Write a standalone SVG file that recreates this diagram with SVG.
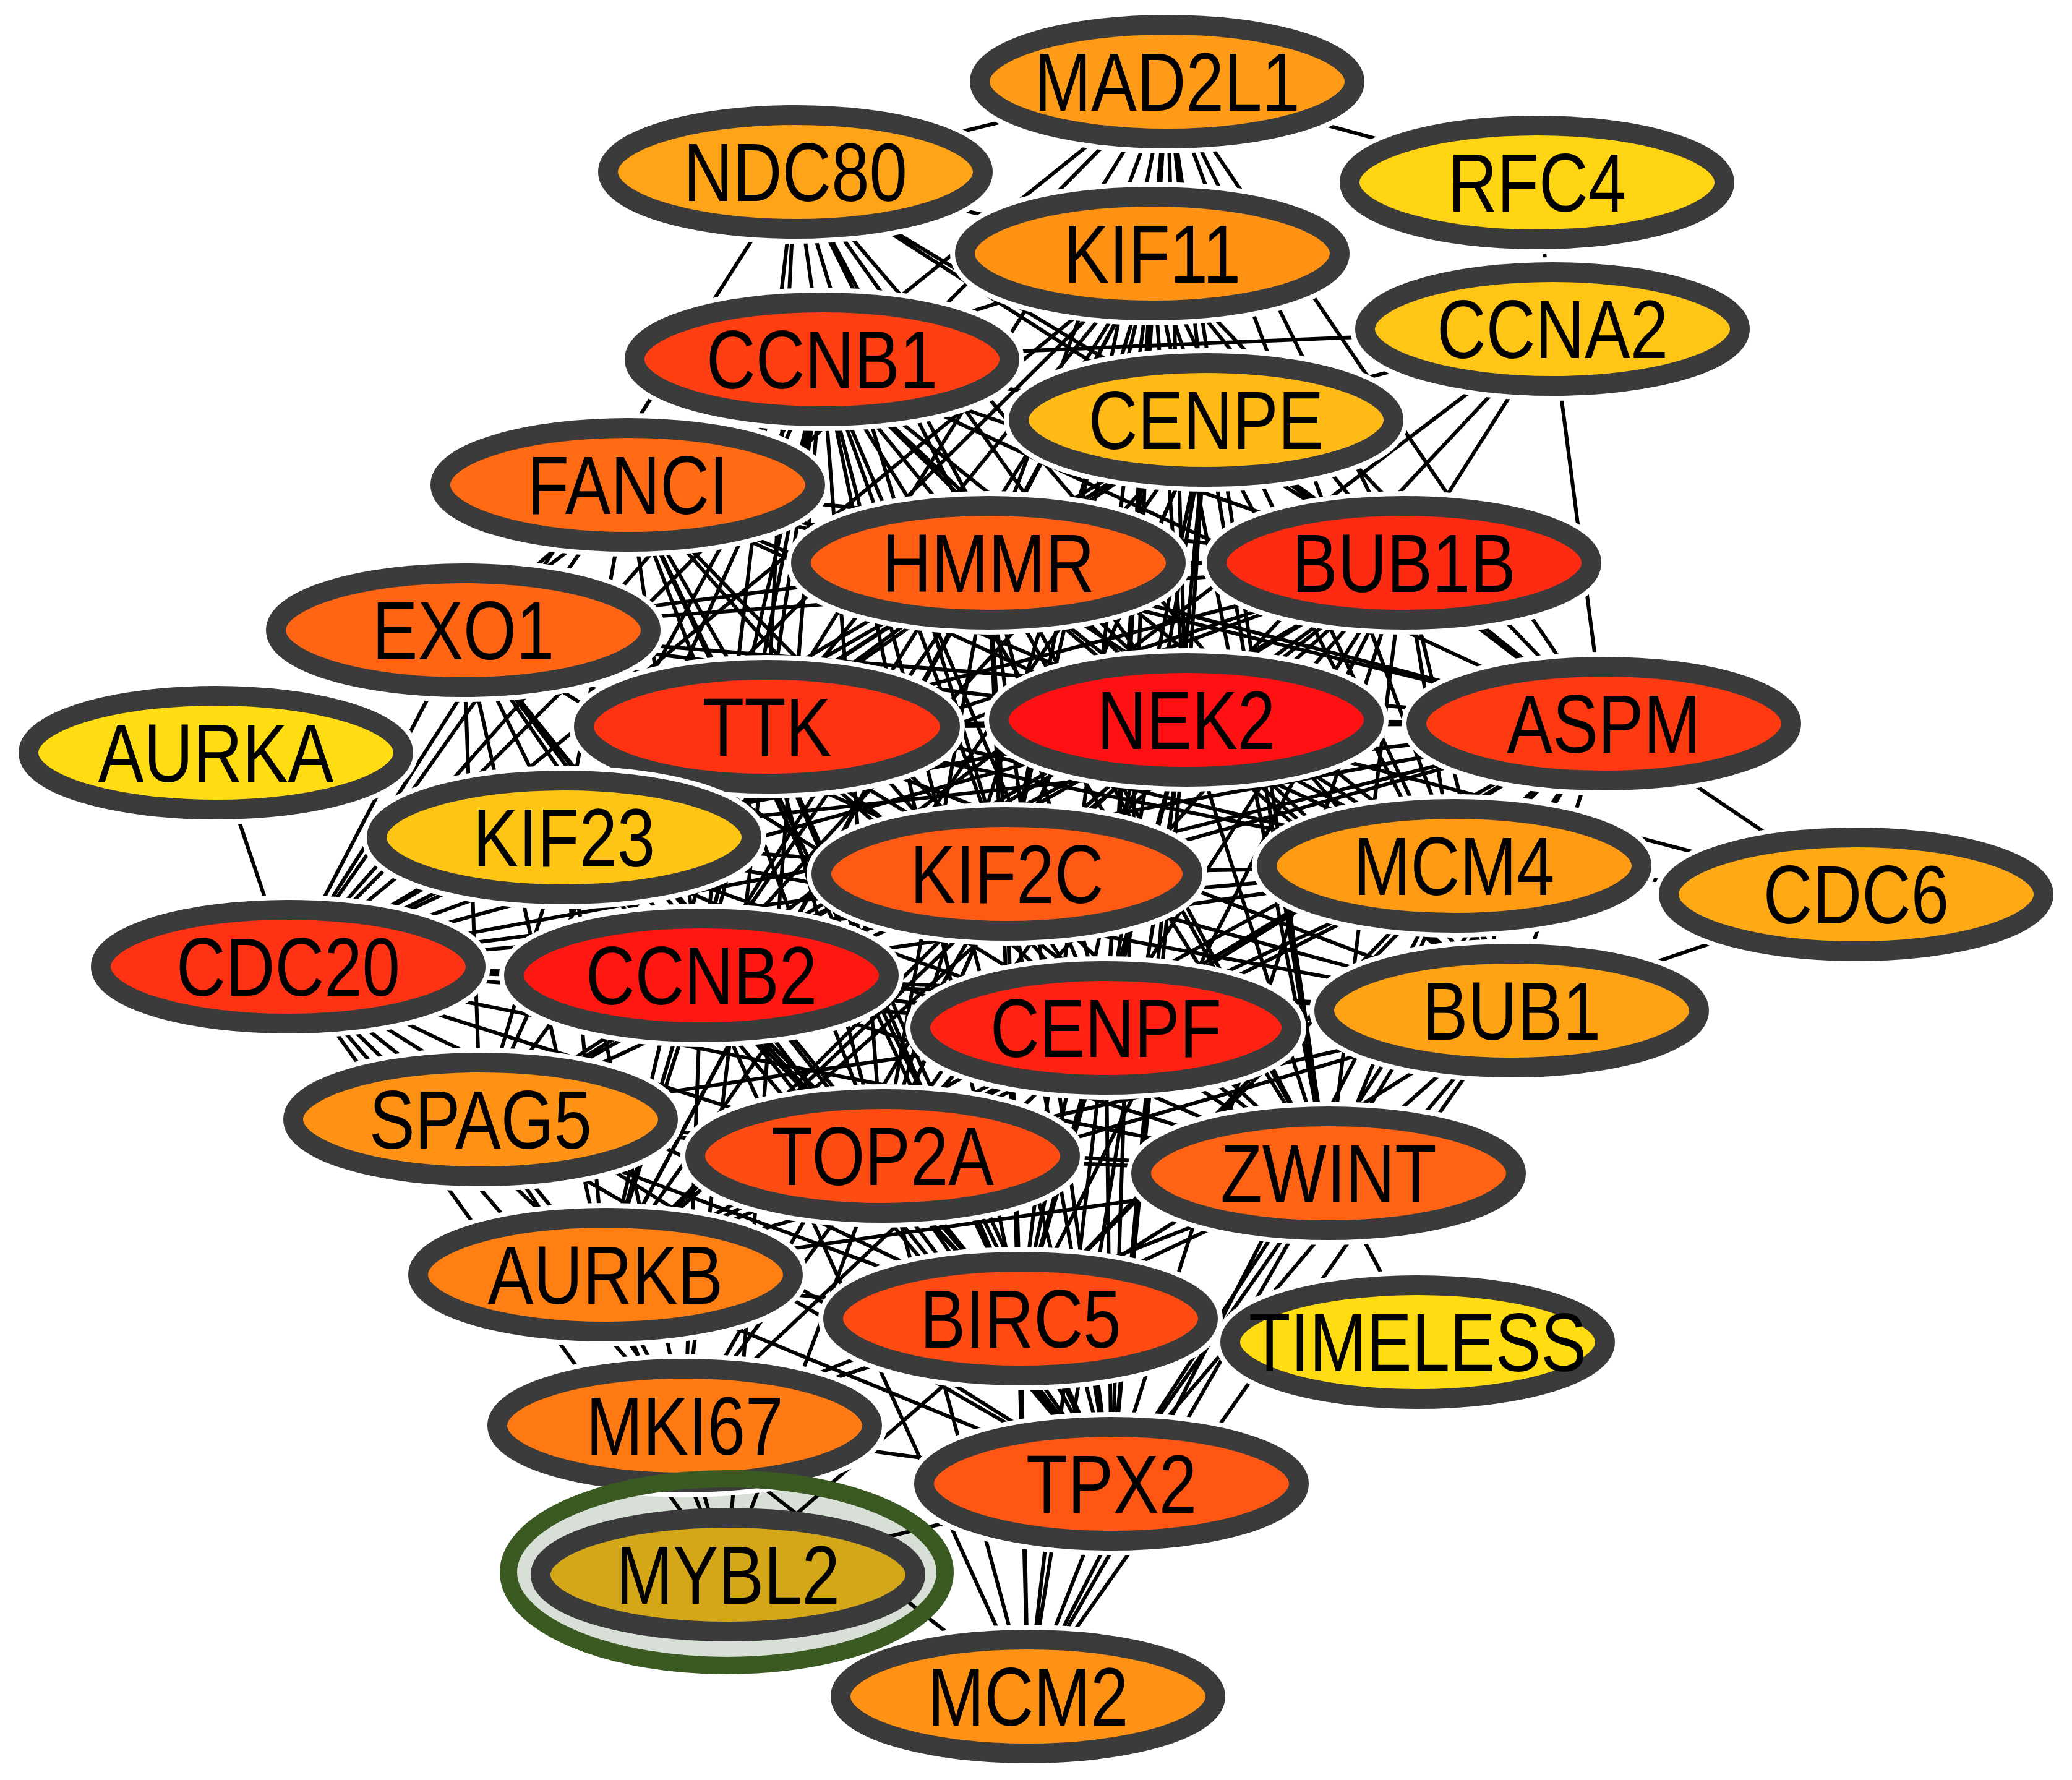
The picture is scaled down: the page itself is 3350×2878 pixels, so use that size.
<svg xmlns="http://www.w3.org/2000/svg" width="3350" height="2878" viewBox="0 0 3350 2878">
<style>
.e path{stroke:#000;stroke-width:6;fill:none}
.h{fill:none;stroke:#fff;stroke-width:48}
.n{stroke:#3b3b3b;stroke-width:32}
.t{font-family:"Liberation Sans",Arial,sans-serif;font-size:133px;text-anchor:middle;fill:#000}
</style>
<rect width="3350" height="2878" fill="#fff"/>
<g id="mybl2-backdrop"><ellipse cx="1175" cy="2542" rx="353" ry="151" fill="#d7dfd6"/></g>
<g id="connectors" class="e">
<path d="M1329 581L1598 910M1329 581L2270 910M1329 581L1240 1175M1329 581L1918 1164M1329 581L2593 1170M1329 581L1628 1413M1329 581L466 1563M1329 581L1134 1577M1329 581L1788 1662M1329 581L1427 1869M1329 581L1650 2132M1329 581L1797 2399M1329 581L2444 1634M1329 581L2148 1897M1329 581L912 1354M1329 581L1950 679M1329 581L1863 410M1329 581L979 2061"/>
<path d="M1598 910L2270 910M1598 910L1240 1175M1598 910L1918 1164M1598 910L2593 1170M1598 910L1628 1413M1598 910L466 1563M1598 910L1134 1577M1598 910L1788 1662M1598 910L1427 1869M1598 910L1650 2132M1598 910L1797 2399M1598 910L2444 1634M1598 910L2148 1897M1598 910L912 1354M1598 910L1950 679M1598 910L1863 410M1598 910L979 2061"/>
<path d="M2270 910L1240 1175M2270 910L1918 1164M2270 910L2593 1170M2270 910L1628 1413M2270 910L466 1563M2270 910L1134 1577M2270 910L1788 1662M2270 910L1427 1869M2270 910L1650 2132M2270 910L1797 2399M2270 910L2444 1634M2270 910L2148 1897M2270 910L912 1354M2270 910L1950 679M2270 910L1863 410M2270 910L979 2061"/>
<path d="M1240 1175L1918 1164M1240 1175L2593 1170M1240 1175L1628 1413M1240 1175L466 1563M1240 1175L1134 1577M1240 1175L1788 1662M1240 1175L1427 1869M1240 1175L1650 2132M1240 1175L1797 2399M1240 1175L2444 1634M1240 1175L2148 1897M1240 1175L912 1354M1240 1175L1950 679M1240 1175L1863 410M1240 1175L979 2061"/>
<path d="M1918 1164L2593 1170M1918 1164L1628 1413M1918 1164L466 1563M1918 1164L1134 1577M1918 1164L1788 1662M1918 1164L1427 1869M1918 1164L1650 2132M1918 1164L1797 2399M1918 1164L2444 1634M1918 1164L2148 1897M1918 1164L912 1354M1918 1164L1950 679M1918 1164L1863 410M1918 1164L979 2061"/>
<path d="M2593 1170L1628 1413M2593 1170L466 1563M2593 1170L1134 1577M2593 1170L1788 1662M2593 1170L1427 1869M2593 1170L1650 2132M2593 1170L1797 2399M2593 1170L2444 1634M2593 1170L2148 1897M2593 1170L912 1354M2593 1170L1950 679M2593 1170L1863 410M2593 1170L979 2061"/>
<path d="M1628 1413L466 1563M1628 1413L1134 1577M1628 1413L1788 1662M1628 1413L1427 1869M1628 1413L1650 2132M1628 1413L1797 2399M1628 1413L2444 1634M1628 1413L2148 1897M1628 1413L912 1354M1628 1413L1950 679M1628 1413L1863 410M1628 1413L979 2061"/>
<path d="M466 1563L1134 1577M466 1563L1788 1662M466 1563L1427 1869M466 1563L1650 2132M466 1563L1797 2399M466 1563L2444 1634M466 1563L2148 1897M466 1563L912 1354M466 1563L1950 679M466 1563L1863 410M466 1563L979 2061"/>
<path d="M1134 1577L1788 1662M1134 1577L1427 1869M1134 1577L1650 2132M1134 1577L1797 2399M1134 1577L2444 1634M1134 1577L2148 1897M1134 1577L912 1354M1134 1577L1950 679M1134 1577L1863 410M1134 1577L979 2061"/>
<path d="M1788 1662L1427 1869M1788 1662L1650 2132M1788 1662L1797 2399M1788 1662L2444 1634M1788 1662L2148 1897M1788 1662L912 1354M1788 1662L1950 679M1788 1662L1863 410M1788 1662L979 2061"/>
<path d="M1427 1869L1650 2132M1427 1869L1797 2399M1427 1869L2444 1634M1427 1869L2148 1897M1427 1869L912 1354M1427 1869L1950 679M1427 1869L1863 410M1427 1869L979 2061"/>
<path d="M1650 2132L1797 2399M1650 2132L2444 1634M1650 2132L2148 1897M1650 2132L912 1354M1650 2132L1950 679M1650 2132L1863 410M1650 2132L979 2061"/>
<path d="M1797 2399L2444 1634M1797 2399L2148 1897M1797 2399L912 1354M1797 2399L1950 679M1797 2399L1863 410M1797 2399L979 2061"/>
<path d="M2444 1634L2148 1897M2444 1634L912 1354M2444 1634L1950 679M2444 1634L1863 410M2444 1634L979 2061"/>
<path d="M2148 1897L912 1354M2148 1897L1950 679M2148 1897L1863 410M2148 1897L979 2061"/>
<path d="M912 1354L1950 679M912 1354L1863 410M912 1354L979 2061M1950 679L1863 410M1950 679L979 2061M1863 410L979 2061"/>
<path d="M349 1217L466 1563"/>
<path d="M2485 295L1887 132M2485 295L2510 532"/>
<path d="M2292 2170L2148 1897"/>
<path d="M3001 1446L2593 1170M3001 1446L2351 1400M3001 1446L2444 1634M3001 1446L1918 1164"/>
<path d="M2510 532L1950 679M2510 532L2270 910M2510 532L1918 1164M2510 532L1134 1577M2510 532L1329 581M2510 532L2593 1170"/>
<path d="M1887 132L1286 278M1887 132L1863 410M1887 132L1329 581M1887 132L1950 679M1887 132L2270 910M1887 132L1918 1164M1887 132L1240 1175M1887 132L1598 910M1887 132L466 1563M1887 132L2444 1634M1887 132L2148 1897M1887 132L1788 1662M1887 132L1628 1413M1887 132L2593 1170"/>
<path d="M1286 278L1863 410M1286 278L1329 581M1286 278L1240 1175M1286 278L1134 1577M1286 278L1598 910M1286 278L1950 679M1286 278L2270 910M1286 278L1918 1164M1286 278L2148 1897M1286 278L1628 1413M1286 278L466 1563M1286 278L2444 1634"/>
<path d="M749 1019L466 1563M749 1019L1015 784M749 1019L1329 581M749 1019L1240 1175M749 1019L912 1354M749 1019L1134 1577M749 1019L1628 1413M749 1019L1918 1164M749 1019L1598 910M749 1019L2270 910M749 1019L2593 1170M749 1019L1427 1869M749 1019L1788 1662M749 1019L1650 2132M749 1019L979 2061M749 1019L2351 1400M749 1019L1797 2399"/>
<path d="M1015 784L1329 581M1015 784L466 1563M1015 784L1240 1175M1015 784L1598 910M1015 784L1918 1164M1015 784L1134 1577M1015 784L1628 1413M1015 784L1427 1869M1015 784L2270 910M1015 784L1788 1662M1015 784L1650 2132M1015 784L912 1354M1015 784L2351 1400M1015 784L2593 1170M1015 784L1797 2399"/>
<path d="M777 1810L466 1563M777 1810L1134 1577M777 1810L912 1354M777 1810L1427 1869M777 1810L979 2061M777 1810L1650 2132M777 1810L1107 2305M777 1810L1797 2399M777 1810L1788 1662M777 1810L1628 1413M777 1810L1240 1175M777 1810L1918 1164M777 1810L1329 581M777 1810L2270 910M777 1810L2148 1897M777 1810L749 1019"/>
<path d="M1107 2305L979 2061M1107 2305L1175 2546M1107 2305L1427 1869M1107 2305L1650 2132M1107 2305L1797 2399M1107 2305L1134 1577M1107 2305L466 1563M1107 2305L1788 1662M1107 2305L1628 1413M1107 2305L1662 2743M1107 2305L912 1354M1107 2305L1240 1175M1107 2305L2148 1897"/>
<path d="M2351 1400L1662 2743M2351 1400L2444 1634M2351 1400L2270 910M2351 1400L2593 1170M2351 1400L1918 1164M2351 1400L1240 1175M2351 1400L1329 581M2351 1400L1598 910M2351 1400L1628 1413M2351 1400L1788 1662M2351 1400L1134 1577M2351 1400L1427 1869M2351 1400L466 1563M2351 1400L2148 1897M2351 1400L1650 2132"/>
<path d="M1662 2743L1797 2399M1662 2743L1650 2132M1662 2743L1427 1869M1662 2743L1788 1662M1662 2743L2148 1897M1662 2743L1628 1413M1662 2743L1918 1164M1662 2743L1134 1577M1662 2743L2444 1634"/>
<path d="M1175 2546L979 2061M1175 2546L466 1563M1175 2546L1650 2132M1175 2546L1427 1869M1175 2546L1797 2399M1175 2546L1329 581"/>
</g>
<g id="nodes">
<g id="MAD2L1"><ellipse class="h" cx="1887" cy="132" rx="303" ry="92"/><ellipse class="n" cx="1887" cy="132" rx="303" ry="92" fill="#FF9B16"/><text class="t" transform="translate(1887 179) scale(0.83 1)">MAD2L1</text></g>
<g id="NDC80"><ellipse class="h" cx="1286" cy="278" rx="303" ry="92"/><ellipse class="n" cx="1286" cy="278" rx="303" ry="92" fill="#FFA317"/><text class="t" transform="translate(1286 325) scale(0.83 1)">NDC80</text></g>
<g id="RFC4"><ellipse class="h" cx="2485" cy="295" rx="303" ry="92"/><ellipse class="n" cx="2485" cy="295" rx="303" ry="92" fill="#FFD513"/><text class="t" transform="translate(2485 342) scale(0.83 1)">RFC4</text></g>
<g id="KIF11"><ellipse class="h" cx="1863" cy="410" rx="303" ry="92"/><ellipse class="n" cx="1863" cy="410" rx="303" ry="92" fill="#FF9113"/><text class="t" transform="translate(1863 457) scale(0.83 1)">KIF11</text></g>
<g id="CCNA2"><ellipse class="h" cx="2510" cy="532" rx="303" ry="92"/><ellipse class="n" cx="2510" cy="532" rx="303" ry="92" fill="#FFC615"/><text class="t" transform="translate(2510 579) scale(0.83 1)">CCNA2</text></g>
<g id="CCNB1"><ellipse class="h" cx="1329" cy="581" rx="303" ry="92"/><ellipse class="n" cx="1329" cy="581" rx="303" ry="92" fill="#FF3F12"/><text class="t" transform="translate(1329 628) scale(0.83 1)">CCNB1</text></g>
<g id="CENPE"><ellipse class="h" cx="1950" cy="679" rx="303" ry="92"/><ellipse class="n" cx="1950" cy="679" rx="303" ry="92" fill="#FFBA15"/><text class="t" transform="translate(1950 726) scale(0.83 1)">CENPE</text></g>
<g id="FANCI"><ellipse class="h" cx="1015" cy="784" rx="303" ry="92"/><ellipse class="n" cx="1015" cy="784" rx="303" ry="92" fill="#FF6A13"/><text class="t" transform="translate(1015 831) scale(0.83 1)">FANCI</text></g>
<g id="HMMR"><ellipse class="h" cx="1598" cy="910" rx="303" ry="92"/><ellipse class="n" cx="1598" cy="910" rx="303" ry="92" fill="#FF5E13"/><text class="t" transform="translate(1598 957) scale(0.83 1)">HMMR</text></g>
<g id="BUB1B"><ellipse class="h" cx="2270" cy="910" rx="303" ry="92"/><ellipse class="n" cx="2270" cy="910" rx="303" ry="92" fill="#FF2A12"/><text class="t" transform="translate(2270 957) scale(0.83 1)">BUB1B</text></g>
<g id="EXO1"><ellipse class="h" cx="749" cy="1019" rx="303" ry="92"/><ellipse class="n" cx="749" cy="1019" rx="303" ry="92" fill="#FF6513"/><text class="t" transform="translate(749 1066) scale(0.83 1)">EXO1</text></g>
<g id="TTK"><ellipse class="h" cx="1240" cy="1175" rx="296" ry="92"/><ellipse class="n" cx="1240" cy="1175" rx="296" ry="92" fill="#FF3312"/><text class="t" transform="translate(1240 1222) scale(0.83 1)">TTK</text></g>
<g id="NEK2"><ellipse class="h" cx="1918" cy="1164" rx="303" ry="92"/><ellipse class="n" cx="1918" cy="1164" rx="303" ry="92" fill="#FF1012"/><text class="t" transform="translate(1918 1211) scale(0.83 1)">NEK2</text></g>
<g id="ASPM"><ellipse class="h" cx="2593" cy="1170" rx="303" ry="92"/><ellipse class="n" cx="2593" cy="1170" rx="303" ry="92" fill="#FF3A10"/><text class="t" transform="translate(2593 1217) scale(0.83 1)">ASPM</text></g>
<g id="AURKA"><ellipse class="h" cx="349" cy="1217" rx="303" ry="92"/><ellipse class="n" cx="349" cy="1217" rx="303" ry="92" fill="#FFDD12"/><text class="t" transform="translate(349 1264) scale(0.83 1)">AURKA</text></g>
<g id="KIF23"><ellipse class="h" cx="912" cy="1354" rx="303" ry="92"/><ellipse class="n" cx="912" cy="1354" rx="303" ry="92" fill="#FFC514"/><text class="t" transform="translate(912 1401) scale(0.83 1)">KIF23</text></g>
<g id="KIF2C"><ellipse class="h" cx="1628" cy="1413" rx="300" ry="92"/><ellipse class="n" cx="1628" cy="1413" rx="300" ry="92" fill="#FF5A13"/><text class="t" transform="translate(1628 1460) scale(0.83 1)">KIF2C</text></g>
<g id="MCM4"><ellipse class="h" cx="2351" cy="1400" rx="303" ry="92"/><ellipse class="n" cx="2351" cy="1400" rx="303" ry="92" fill="#FF9A13"/><text class="t" transform="translate(2351 1447) scale(0.83 1)">MCM4</text></g>
<g id="CDC6"><ellipse class="h" cx="3001" cy="1446" rx="303" ry="92"/><ellipse class="n" cx="3001" cy="1446" rx="303" ry="92" fill="#FFAA15"/><text class="t" transform="translate(3001 1493) scale(0.83 1)">CDC6</text></g>
<g id="CDC20"><ellipse class="h" cx="466" cy="1563" rx="303" ry="92"/><ellipse class="n" cx="466" cy="1563" rx="303" ry="92" fill="#FF3213"/><text class="t" transform="translate(466 1610) scale(0.83 1)">CDC20</text></g>
<g id="CCNB2"><ellipse class="h" cx="1134" cy="1577" rx="303" ry="92"/><ellipse class="n" cx="1134" cy="1577" rx="303" ry="92" fill="#FF1712"/><text class="t" transform="translate(1134 1624) scale(0.83 1)">CCNB2</text></g>
<g id="CENPF"><ellipse class="h" cx="1788" cy="1662" rx="300" ry="92"/><ellipse class="n" cx="1788" cy="1662" rx="300" ry="92" fill="#FF2112"/><text class="t" transform="translate(1788 1709) scale(0.83 1)">CENPF</text></g>
<g id="BUB1"><ellipse class="h" cx="2444" cy="1634" rx="303" ry="92"/><ellipse class="n" cx="2444" cy="1634" rx="303" ry="92" fill="#FFA315"/><text class="t" transform="translate(2444 1681) scale(0.83 1)">BUB1</text></g>
<g id="SPAG5"><ellipse class="h" cx="777" cy="1810" rx="303" ry="92"/><ellipse class="n" cx="777" cy="1810" rx="303" ry="92" fill="#FF9214"/><text class="t" transform="translate(777 1857) scale(0.83 1)">SPAG5</text></g>
<g id="TOP2A"><ellipse class="h" cx="1427" cy="1869" rx="303" ry="92"/><ellipse class="n" cx="1427" cy="1869" rx="303" ry="92" fill="#FF4C12"/><text class="t" transform="translate(1427 1916) scale(0.83 1)">TOP2A</text></g>
<g id="ZWINT"><ellipse class="h" cx="2148" cy="1897" rx="303" ry="92"/><ellipse class="n" cx="2148" cy="1897" rx="303" ry="92" fill="#FF6313"/><text class="t" transform="translate(2148 1944) scale(0.83 1)">ZWINT</text></g>
<g id="AURKB"><ellipse class="h" cx="979" cy="2061" rx="303" ry="92"/><ellipse class="n" cx="979" cy="2061" rx="303" ry="92" fill="#FF7F13"/><text class="t" transform="translate(979 2108) scale(0.83 1)">AURKB</text></g>
<g id="BIRC5"><ellipse class="h" cx="1650" cy="2132" rx="303" ry="92"/><ellipse class="n" cx="1650" cy="2132" rx="303" ry="92" fill="#FF4A12"/><text class="t" transform="translate(1650 2179) scale(0.83 1)">BIRC5</text></g>
<g id="TIMELESS"><ellipse class="h" cx="2292" cy="2170" rx="303" ry="92"/><ellipse class="n" cx="2292" cy="2170" rx="303" ry="92" fill="#FFDD12"/><text class="t" transform="translate(2292 2217) scale(0.83 1)">TIMELESS</text></g>
<g id="MKI67"><ellipse class="h" cx="1107" cy="2305" rx="303" ry="92"/><ellipse class="n" cx="1107" cy="2305" rx="303" ry="92" fill="#FF7A13"/><text class="t" transform="translate(1107 2352) scale(0.83 1)">MKI67</text></g>
<g id="TPX2"><ellipse class="h" cx="1797" cy="2399" rx="303" ry="92"/><ellipse class="n" cx="1797" cy="2399" rx="303" ry="92" fill="#FF5713"/><text class="t" transform="translate(1797 2446) scale(0.83 1)">TPX2</text></g>
<g id="MCM2"><ellipse class="h" cx="1662" cy="2743" rx="303" ry="92"/><ellipse class="n" cx="1662" cy="2743" rx="303" ry="92" fill="#FF9214"/><text class="t" transform="translate(1662 2790) scale(0.83 1)">MCM2</text></g>
<g id="MYBL2"><ellipse cx="1175" cy="2542" rx="353" ry="151" fill="none" stroke="#3a5a22" stroke-width="28"/><ellipse class="n" cx="1177" cy="2546" rx="303" ry="92" fill="#D4A718" stroke="#333a33"/><text class="t" transform="translate(1177 2593) scale(0.83 1)" fill="#17221a">MYBL2</text></g>
</g>
</svg>
